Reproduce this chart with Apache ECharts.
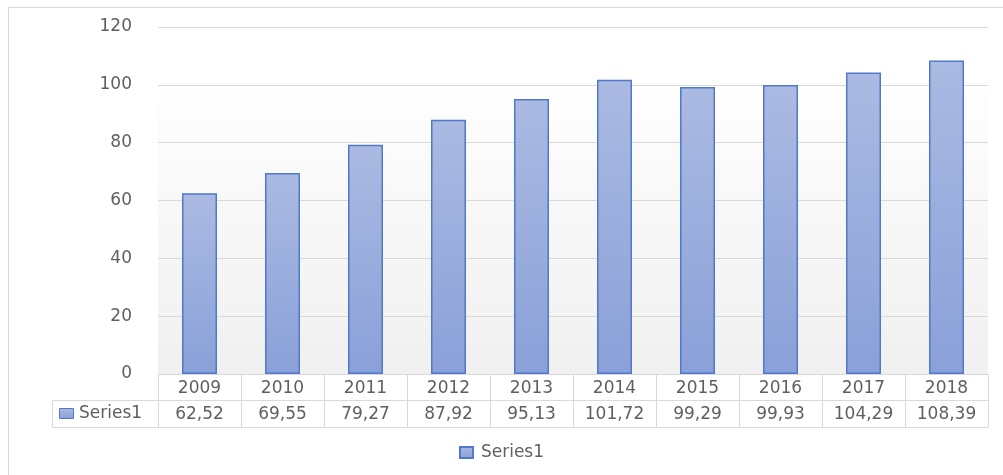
<!DOCTYPE html>
<html>
<head>
<meta charset="utf-8">
<script src="https://cdn.jsdelivr.net/npm/echarts@6/dist/echarts.min.js"></script>
<style>
html,body{margin:0;padding:0;background:#fff;}
#c{width:1003px;height:475px;}
</style>
</head>
<body>
<div id="c"></div>
<script>
var categories = ['2009','2010','2011','2012','2013','2014','2015','2016','2017','2018'];
var values = [62.52, 69.55, 79.27, 87.92, 95.13, 101.72, 99.29, 99.93, 104.29, 108.39];
var seriesName = 'Series1';
var yTicks = {min: 0, max: 120, interval: 20};

function fmt(v){ return v.toFixed(2).replace('.', ','); }

var FONT = 'DejaVu Sans';
var TXT = '#5f5f5f';
var LINE = '#d9d9d9';

var barFill = new echarts.graphic.LinearGradient(0,0,0,1,[
  {offset:0,color:'#abbae2'},{offset:1,color:'#8aa0d8'}
]);

var chart = echarts.init(document.getElementById('c'));
chart.setOption({
  animation: false,
  grid: {
    left: 158, right: 15, top: 27, bottom: 101,
    show: true, borderWidth: 0,
    backgroundColor: new echarts.graphic.LinearGradient(0,0,0,1,[
      {offset:0,color:'#ffffff'},{offset:0.12,color:'#ffffff'},{offset:1,color:'#f0f0f0'}
    ])
  },
  legend: {
    bottom: 9, left: 'center',
    icon: 'rect', itemWidth: 13, itemHeight: 11, itemGap: 10,
    textStyle: {fontFamily: FONT, fontSize: 17, color: TXT, padding: [0,0,0,3]},
    data: [seriesName]
  },
  xAxis: [
    {
      type: 'category', data: categories, position: 'bottom',
      axisLine: {show: true, lineStyle: {color: LINE, width: 1}},
      axisTick: {show: true, interval: 0, length: 53, lineStyle: {color: LINE, width: 1}},
      axisLabel: {interval: 0, margin: 6, fontFamily: FONT, fontSize: 17, color: TXT},
      splitLine: {show: false}
    },
    {
      type: 'category', data: categories, position: 'bottom', offset: 26,
      axisLine: {show: true, lineStyle: {color: LINE, width: 1}},
      axisTick: {show: false},
      axisLabel: {interval: 0, margin: 6, fontFamily: FONT, fontSize: 17, color: TXT,
        formatter: function(v, i){ return fmt(values[i]); }},
      splitLine: {show: false}
    },
    {
      type: 'category', data: categories, position: 'bottom', offset: 53,
      axisLine: {show: true, lineStyle: {color: LINE, width: 1}},
      axisTick: {show: false},
      axisLabel: {show: false},
      splitLine: {show: false}
    }
  ],
  yAxis: {
    type: 'value', min: yTicks.min, max: yTicks.max, interval: yTicks.interval,
    axisLine: {show: false}, axisTick: {show: false},
    axisLabel: {margin: 26, fontFamily: FONT, fontSize: 17, color: TXT},
    splitLine: {show: true, lineStyle: {color: LINE, width: 1}}
  },
  series: [{
    name: seriesName, type: 'bar', xAxisIndex: 0,
    data: values, barWidth: 35,
    itemStyle: {color: barFill, borderColor: '#5078cb', borderWidth: 1.5}
  }],
  graphic: [
    {type: 'polyline', silent: true, shape: {points: [[8.5,480],[8.5,7.5],[1010,7.5]]},
      style: {stroke: LINE, fill: null, lineWidth: 1}},
    {type: 'polyline', silent: true, shape: {points: [[158,400.5],[52.5,400.5],[52.5,427.5],[158,427.5]]},
      style: {stroke: LINE, fill: null, lineWidth: 1}},
    {type: 'rect', silent: true, shape: {x: 59.5, y: 408.5, width: 14, height: 10},
      style: {fill: barFill, stroke: '#5078cb', lineWidth: 1}},
    {type: 'text', silent: true, x: 79, y: 414,
      style: {text: seriesName, font: '17px "DejaVu Sans"', fill: TXT, verticalAlign: 'middle', align: 'left'}}
  ]
});
</script>
</body>
</html>
